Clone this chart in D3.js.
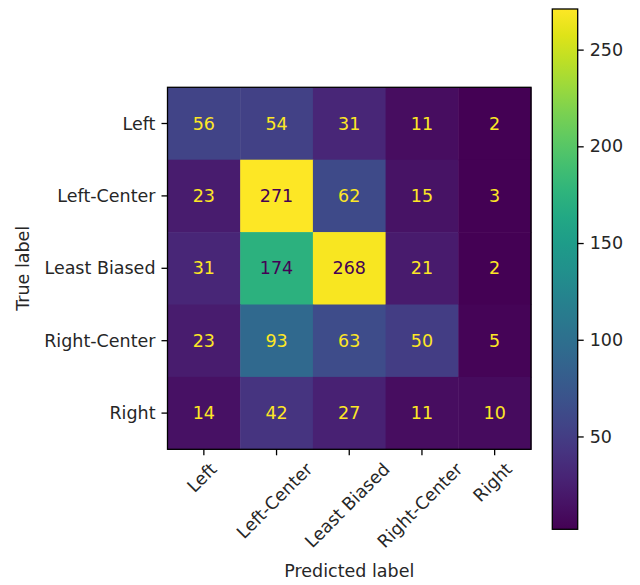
<!DOCTYPE html>
<html>
<head>
<meta charset="utf-8">
<script src="https://cdn.jsdelivr.net/npm/d3@7"></script>
<style>
  body { margin: 0; background: #fff; }
  text { font-family: "DejaVu Sans", sans-serif; fill: #262626; }
</style>
</head>
<body>
<svg id="chart" width="640" height="585"></svg>
<script>
// class labels (same order on both axes)
const labels = ["Left", "Left-Center", "Least Biased", "Right-Center", "Right"];

// rows = true label, columns = predicted label
const rowLeft        = [56, 54, 31, 11, 2];
const rowLeftCenter  = [23, 271, 62, 15, 3];
const rowLeastBiased = [31, 174, 268, 21, 2];
const rowRightCenter = [23, 93, 63, 50, 5];
const rowRight       = [14, 42, 27, 11, 10];
const matrix = [rowLeft, rowLeftCenter, rowLeastBiased, rowRightCenter, rowRight];

const colorbarTicks = [50, 100, 150, 200, 250];

const fs = 17.5;          // ~10pt at this scale
const tickLen = 6, tickPad = 6;
const box = { left: 167.5, right: 531, top: 87.3, bottom: 449.3 };
const cbar = { left: 552.3, right: 577.7, top: 9, bottom: 529.3 };

const svg = d3.select("#chart");

const cells = [];
matrix.forEach((row, i) => row.forEach((v, j) => cells.push({ t: labels[i], p: labels[j], v: v })));

const vmin = d3.min(cells, d => d.v), vmax = d3.max(cells, d => d.v);
const color = d3.scaleSequential(d3.interpolateViridis).domain([vmin, vmax]);

const x = d3.scaleBand().domain(labels).range([box.left, box.right]);
const y = d3.scaleBand().domain(labels).range([box.top, box.bottom]);

// heatmap cells
svg.append("g").selectAll("rect")
  .data(cells).enter().append("rect")
    .attr("x", d => x(d.p))
    .attr("y", d => y(d.t))
    .attr("width", x.bandwidth() + 0.5)
    .attr("height", y.bandwidth() + 0.5)
    .attr("fill", d => color(d.v));

// numbers: dark text on bright cells, yellow otherwise
const thresh = (vmin + vmax) / 2;
svg.append("g").selectAll("text")
  .data(cells).enter().append("text")
    .attr("x", d => x(d.p) + x.bandwidth() / 2)
    .attr("y", d => y(d.t) + y.bandwidth() / 2)
    .attr("text-anchor", "middle")
    .attr("dominant-baseline", "central")
    .style("font-size", fs + "px")
    .style("fill", d => d.v > thresh ? color(vmin) : color(vmax))
    .text(d => d.v);

// frame
svg.append("rect")
  .attr("x", box.left).attr("y", box.top)
  .attr("width", box.right - box.left).attr("height", box.bottom - box.top)
  .attr("fill", "none").attr("stroke", "#000").attr("stroke-width", 1.3);

// y ticks
const yt = svg.append("g");
labels.forEach(l => {
  const cy = y(l) + y.bandwidth() / 2;
  yt.append("line")
    .attr("x1", box.left - tickLen).attr("x2", box.left)
    .attr("y1", cy).attr("y2", cy)
    .attr("stroke", "#000").attr("stroke-width", 1.3);
  yt.append("text")
    .attr("x", box.left - tickLen - tickPad)
    .attr("y", cy)
    .attr("text-anchor", "end")
    .attr("dominant-baseline", "central")
    .style("font-size", fs + "px")
    .text(l);
});

// x ticks, labels rotated 45deg with the rotated box centred on the tick
const xt = svg.append("g");
const labTop = box.bottom + tickLen + tickPad;
labels.forEach(l => {
  const cx = x(l) + x.bandwidth() / 2;
  xt.append("line")
    .attr("x1", cx).attr("x2", cx)
    .attr("y1", box.bottom).attr("y2", box.bottom + tickLen)
    .attr("stroke", "#000").attr("stroke-width", 1.3);
  const t = xt.append("text")
    .attr("text-anchor", "middle")
    .attr("dominant-baseline", "central")
    .style("font-size", fs + "px")
    .text(l);
  const w = t.node().getComputedTextLength();
  const h = 13.5;
  const cyl = labTop + (w + h) / (2 * Math.SQRT2);
  t.attr("transform", `translate(${cx - 2},${cyl}) rotate(-45)`);
});

// axis titles
svg.append("text")
  .attr("x", (box.left + box.right) / 2)
  .attr("y", 576.7)
  .attr("text-anchor", "middle")
  .style("font-size", fs + "px")
  .text("Predicted label");

svg.append("text")
  .attr("transform", `translate(29.3,${(box.top + box.bottom) / 2}) rotate(-90)`)
  .attr("text-anchor", "middle")
  .style("font-size", fs + "px")
  .text("True label");

// colorbar
const defs = svg.append("defs");
const grad = defs.append("linearGradient")
  .attr("id", "cbgrad")
  .attr("x1", 0).attr("y1", 1).attr("x2", 0).attr("y2", 0);
d3.range(0, 1.0001, 0.05).forEach(s => {
  grad.append("stop")
    .attr("offset", s)
    .attr("stop-color", d3.interpolateViridis(s));
});

const cy = d3.scaleLinear().domain([vmin, vmax]).range([cbar.bottom, cbar.top]);

svg.append("rect")
  .attr("x", cbar.left).attr("y", cbar.top)
  .attr("width", cbar.right - cbar.left).attr("height", cbar.bottom - cbar.top)
  .attr("fill", "url(#cbgrad)")
  .attr("stroke", "#000").attr("stroke-width", 1.3);

const cbAxis = d3.axisRight(cy).tickValues(colorbarTicks).tickSize(tickLen).tickPadding(tickPad);
const cbg = svg.append("g")
  .attr("transform", `translate(${cbar.right},0)`)
  .call(cbAxis);
cbg.select(".domain").remove();
cbg.selectAll(".tick line").attr("stroke", "#000").attr("stroke-width", 1.3);
cbg.selectAll(".tick text")
  .style("font-size", fs + "px")
  .style("font-family", "DejaVu Sans, sans-serif")
  .attr("fill", "#262626");
</script>
</body>
</html>
